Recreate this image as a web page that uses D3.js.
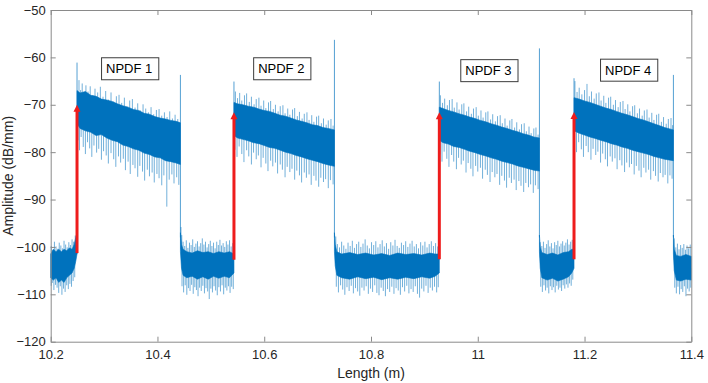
<!DOCTYPE html>
<html>
<head>
<meta charset="utf-8">
<script src="https://cdn.jsdelivr.net/npm/d3@7"></script>
<style>
  body { margin: 0; background: #fff; }
  svg text { font-family: Arial, "Liberation Sans", Helvetica, sans-serif; }
</style>
</head>
<body>
<div id="chart"></div>
<script>
// axis ticks
const xTicks = [10.2, 10.4, 10.6, 10.8, 11, 11.2, 11.4];
const yTicks = [-120, -110, -100, -90, -80, -70, -60, -50];

// trace: core band [x, top, bottom] per segment
const core0 = [[10.2,-101.5,-106.5],[10.205,-100.5,-107],[10.21,-101,-106.5],[10.215,-100.5,-107.5],[10.22,-101,-107],[10.225,-100.5,-107.5],[10.23,-100.8,-106.5],[10.235,-100.2,-106],[10.24,-100.5,-105.5],[10.244,-99.5,-104.5],[10.247,-98,-103],[10.2493,-97,-101.5]];
const core1 = [[10.2493,-67,-74],[10.255,-67.5,-75],[10.265,-67.2,-75.5],[10.275,-68,-75.8],[10.285,-68.2,-76.5],[10.295,-68.8,-76.3],[10.305,-69,-77],[10.315,-69.3,-77.5],[10.325,-69.8,-77.8],[10.335,-70.2,-78.5],[10.345,-70.5,-78.8],[10.355,-71,-79.3],[10.365,-71.2,-79.6],[10.375,-71.8,-80.2],[10.385,-72,-80.5],[10.395,-72.5,-81],[10.405,-72.8,-81.2],[10.415,-73,-81.8],[10.425,-73.3,-82],[10.435,-73.5,-82.3],[10.443,-73.8,-82.6]];
const core2 = [[10.443,-97,-101],[10.445,-99.5,-104.5],[10.448,-100.5,-106],[10.455,-101,-106.5],[10.465,-101.3,-106.2],[10.475,-100.8,-106.8],[10.485,-101.2,-106.3],[10.495,-101,-106.8],[10.505,-101.4,-106.2],[10.515,-101,-106.6],[10.525,-101.3,-106.2],[10.535,-101,-106.5],[10.5433,-101.5,-105.5]];
const core3 = [[10.5433,-69.5,-76.5],[10.55,-69.8,-77],[10.56,-70,-77.3],[10.57,-70.3,-77.6],[10.58,-70.5,-78],[10.59,-70.9,-78.2],[10.6,-71.2,-78.6],[10.61,-71.4,-79],[10.62,-71.8,-79.2],[10.63,-72.2,-79.6],[10.64,-72.4,-80],[10.65,-72.8,-80.3],[10.66,-73.2,-80.7],[10.67,-73.5,-81],[10.68,-73.8,-81.4],[10.69,-74.2,-81.7],[10.7,-74.4,-82],[10.71,-74.8,-82.4],[10.72,-75,-82.7],[10.7315,-75.3,-83]];
const core4 = [[10.7315,-97,-101],[10.733,-99.5,-104],[10.736,-101,-106],[10.745,-101.5,-106.5],[10.76,-101.2,-106.8],[10.775,-101.6,-106.3],[10.79,-101.3,-106.7],[10.805,-101.7,-106.4],[10.82,-101.4,-106.9],[10.835,-101.8,-106.5],[10.85,-101.3,-106.8],[10.865,-101.6,-106.4],[10.88,-101.4,-106.7],[10.895,-101.7,-106.3],[10.91,-101.3,-106.6],[10.92,-101.5,-106.2],[10.928,-101.5,-105.5]];
const core5 = [[10.928,-70.5,-77.5],[10.935,-70.8,-78],[10.945,-71.2,-78.3],[10.955,-71.5,-78.8],[10.965,-71.9,-79],[10.975,-72.2,-79.4],[10.985,-72.6,-79.8],[10.995,-72.9,-80.1],[11.005,-73.3,-80.5],[11.015,-73.6,-80.8],[11.025,-74,-81.2],[11.035,-74.3,-81.5],[11.045,-74.7,-81.9],[11.055,-75,-82.2],[11.065,-75.4,-82.5],[11.075,-75.7,-82.9],[11.085,-76.1,-83.2],[11.095,-76.4,-83.5],[11.105,-76.8,-83.8],[11.1155,-77,-84]];
const core6 = [[11.1155,-97.5,-101],[11.117,-100,-104.5],[11.12,-101.2,-106.5],[11.13,-101.6,-107],[11.14,-101.3,-106.6],[11.15,-101.7,-107.2],[11.16,-101.2,-106.8],[11.17,-101,-106.3],[11.176,-100.5,-105.5],[11.1803,-100.5,-104.5]];
const core7 = [[11.1803,-68.5,-75.5],[11.19,-68.8,-76],[11.2,-69.2,-76.4],[11.21,-69.5,-76.8],[11.22,-69.9,-77.1],[11.23,-70.3,-77.5],[11.24,-70.7,-77.8],[11.25,-71,-78.2],[11.26,-71.4,-78.5],[11.27,-71.8,-78.9],[11.28,-72.1,-79.2],[11.29,-72.5,-79.6],[11.3,-72.9,-79.9],[11.31,-73.2,-80.2],[11.32,-73.6,-80.5],[11.33,-74,-80.9],[11.34,-74.4,-81.2],[11.35,-74.8,-81.5],[11.3665,-75.3,-81.8]];
const core8 = [[11.3665,-97.5,-101.5],[11.368,-100.5,-105],[11.372,-101.8,-107],[11.38,-102,-107.2],[11.39,-101.6,-106.8],[11.4,-102,-107]];

// noise spikes outside the core band [x, value]
const spikes0 = [[10.201,-99.8],[10.204,-100.6],[10.207,-98.9],[10.21,-99.9],[10.213,-100.4],[10.216,-99.1],[10.219,-99.7],[10.222,-100.3],[10.225,-98.7],[10.228,-99.5],[10.231,-100.1],[10.234,-99],[10.237,-99.6],[10.24,-98.4],[10.243,-98.9],[10.246,-97.6],
  [10.201,-108.2],[10.203,-107.6],[10.206,-109.1],[10.209,-108],[10.212,-108.6],[10.215,-109.7],[10.218,-108.3],[10.221,-110.1],[10.224,-108.8],[10.227,-109.5],[10.23,-108.1],[10.233,-108.9],[10.236,-107.8],[10.239,-108.4],[10.242,-107.2],[10.245,-106.4]];
const spikes1 = [[10.253,-64.8],[10.256,-66.9],[10.259,-65.5],[10.262,-67.8],[10.266,-65.9],[10.27,-67.2],[10.274,-66.1],[10.279,-68],[10.283,-66.6],[10.288,-67.4],[10.293,-66.2],[10.298,-68.3],[10.303,-67.1],[10.308,-68.9],[10.313,-67.4],[10.318,-69.3],[10.323,-68.2],[10.328,-67.9],[10.333,-69.6],[10.338,-68.5],[10.343,-70.4],[10.348,-69.1],[10.353,-68.8],[10.358,-70.6],[10.363,-69.7],[10.368,-71.2],[10.373,-69.9],[10.378,-70.8],[10.383,-71.6],[10.388,-70.5],[10.393,-72],[10.398,-71.1],[10.403,-70.9],[10.408,-72.3],[10.413,-71.6],[10.418,-72.6],[10.423,-71.4],[10.428,-72.9],[10.433,-72.1],[10.438,-73],
  [10.251,-77.5],[10.254,-79.6],[10.257,-76.8],[10.261,-78.9],[10.265,-80.4],[10.269,-77.9],[10.273,-79.2],[10.277,-81],[10.281,-78.6],[10.286,-80.1],[10.29,-79.3],[10.295,-81.6],[10.299,-79.8],[10.304,-80.7],[10.308,-82.4],[10.313,-80.2],[10.318,-81.5],[10.322,-83.1],[10.327,-80.9],[10.331,-82.2],[10.336,-81.4],[10.34,-83.8],[10.345,-82],[10.349,-84.6],[10.354,-82.7],[10.358,-83.4],[10.363,-85.2],[10.367,-82.9],[10.372,-84.1],[10.376,-86],[10.381,-83.7],[10.385,-85.1],[10.39,-84.3],[10.394,-86.4],[10.399,-84.6],[10.403,-85.5],[10.408,-87],[10.412,-84.9],[10.4175,-91.5],[10.422,-85.8],[10.427,-84.7],[10.431,-86.6],[10.436,-85.3],[10.44,-86.9]];
const spikes2 = [[10.444,-95.8],[10.4455,-97.5],[10.448,-98.9],[10.451,-99.8],[10.454,-98.6],[10.457,-100.2],[10.46,-99.1],[10.463,-99.6],[10.466,-98.4],[10.469,-100],[10.472,-99.3],[10.475,-98.8],[10.478,-99.9],[10.481,-99.2],[10.484,-98.2],[10.487,-99.5],[10.49,-98.9],[10.493,-100.1],[10.496,-99.4],[10.499,-98.7],[10.502,-99.8],[10.505,-99.1],[10.508,-100.3],[10.511,-98.9],[10.514,-99.6],[10.517,-98.5],[10.52,-99.7],[10.523,-99.2],[10.526,-100],[10.529,-98.8],[10.532,-99.5],[10.535,-98.6],[10.538,-99.9],[10.541,-99.2],
  [10.446,-108.3],[10.449,-109.6],[10.452,-108.1],[10.455,-110.1],[10.458,-108.7],[10.461,-109.3],[10.464,-108],[10.467,-109.9],[10.47,-108.5],[10.473,-109.1],[10.476,-110.4],[10.479,-108.6],[10.482,-109.3],[10.485,-108.2],[10.488,-109.8],[10.491,-108.7],[10.494,-109.4],[10.497,-111],[10.5,-108.8],[10.503,-109.6],[10.506,-108.3],[10.509,-109.2],[10.512,-110.2],[10.515,-108.5],[10.518,-109.4],[10.521,-108.1],[10.524,-110],[10.527,-108.6],[10.53,-109.2],[10.533,-108.3],[10.536,-109.7],[10.539,-108.4],[10.542,-108.9]];
const spikes3 = [[10.546,-67.2],[10.55,-68.6],[10.554,-67.5],[10.558,-69.1],[10.563,-68],[10.567,-67.6],[10.572,-69.4],[10.576,-68.3],[10.581,-69.9],[10.585,-68.8],[10.59,-68.5],[10.594,-70.2],[10.599,-69.1],[10.603,-70.7],[10.608,-69.5],[10.612,-69.2],[10.617,-70.9],[10.621,-70],[10.626,-71.4],[10.63,-70.3],[10.635,-70.1],[10.639,-71.8],[10.644,-70.8],[10.648,-72.1],[10.653,-71],[10.657,-70.7],[10.662,-72.4],[10.666,-71.5],[10.671,-72.9],[10.675,-71.9],[10.68,-71.6],[10.684,-73.2],[10.689,-72.2],[10.693,-73.6],[10.698,-72.5],[10.702,-72.3],[10.707,-73.9],[10.711,-72.9],[10.716,-74.2],[10.72,-73.3],[10.725,-73],[10.729,-74.4],
  [10.545,-79.5],[10.549,-81],[10.553,-78.8],[10.558,-80.4],[10.562,-82.1],[10.567,-79.6],[10.571,-80.9],[10.576,-82.6],[10.58,-80.1],[10.585,-81.5],[10.589,-80.7],[10.594,-83.2],[10.598,-81.2],[10.603,-82.4],[10.607,-84],[10.612,-81.8],[10.616,-83],[10.621,-82.2],[10.625,-84.5],[10.63,-82.6],[10.634,-83.7],[10.639,-85.3],[10.643,-83.1],[10.648,-84.2],[10.652,-83.5],[10.657,-85.8],[10.661,-83.9],[10.666,-84.9],[10.67,-86.4],[10.675,-84.3],[10.679,-85.4],[10.684,-84.7],[10.688,-86.9],[10.693,-85],[10.697,-86],[10.702,-87.3],[10.706,-85.4],[10.711,-86.3],[10.715,-85.7],[10.72,-87.6],[10.724,-85.9],[10.729,-86.8]];
const spikes4 = [[10.734,-97.8],[10.737,-99.4],[10.741,-100.1],[10.745,-98.9],[10.749,-99.7],[10.753,-100.4],[10.757,-99.1],[10.761,-99.8],[10.765,-98.7],[10.769,-100.2],[10.773,-99.4],[10.777,-98.9],[10.781,-100],[10.785,-99.3],[10.789,-98.4],[10.793,-99.7],[10.797,-100.3],[10.801,-99],[10.805,-99.6],[10.809,-98.8],[10.813,-100.1],[10.817,-99.4],[10.821,-98.6],[10.825,-99.9],[10.829,-99.2],[10.833,-100.4],[10.837,-99],[10.841,-99.7],[10.845,-98.5],[10.849,-99.8],[10.853,-100.2],[10.857,-99.1],[10.861,-99.6],[10.865,-98.8],[10.869,-100],[10.873,-99.3],[10.877,-98.7],[10.881,-99.9],[10.885,-99.4],[10.889,-100.3],[10.893,-99],[10.897,-99.7],[10.901,-98.9],[10.905,-100.1],[10.909,-99.4],[10.913,-98.8],[10.917,-99.8],[10.921,-99.2],[10.925,-99.9],
  [10.735,-108.4],[10.739,-109.6],[10.743,-108.1],[10.747,-109],[10.751,-110.1],[10.755,-108.5],[10.759,-109.3],[10.763,-108.2],[10.767,-109.8],[10.771,-108.7],[10.775,-109.4],[10.779,-110.3],[10.783,-108.6],[10.787,-109.2],[10.791,-108.3],[10.795,-109.9],[10.799,-108.8],[10.803,-109.5],[10.807,-108.1],[10.811,-109.7],[10.815,-110.2],[10.819,-108.6],[10.823,-109.3],[10.827,-110.4],[10.831,-108.9],[10.835,-109.5],[10.839,-108.4],[10.843,-109.9],[10.847,-108.7],[10.851,-109.2],[10.855,-110.1],[10.859,-108.5],[10.863,-109.4],[10.867,-108.2],[10.871,-109.8],[10.875,-108.9],[10.879,-109.5],[10.883,-108.3],[10.887,-109.9],[10.891,-110.7],[10.895,-108.8],[10.899,-109.4],[10.903,-108.2],[10.907,-109.7],[10.911,-108.6],[10.915,-109.2],[10.919,-108.4],[10.923,-109.6],[10.926,-108.5]];
const spikes5 = [[10.93,-68],[10.934,-69.6],[10.938,-68.7],[10.943,-70.1],[10.947,-69],[10.952,-68.8],[10.956,-70.6],[10.961,-69.5],[10.965,-71],[10.97,-69.9],[10.974,-69.7],[10.979,-71.4],[10.983,-70.4],[10.988,-71.9],[10.992,-70.8],[10.997,-70.5],[11.001,-72.3],[11.006,-71.2],[11.01,-72.7],[11.015,-71.6],[11.019,-71.4],[11.024,-73.1],[11.028,-72],[11.033,-73.5],[11.037,-72.4],[11.042,-72.2],[11.046,-73.9],[11.051,-72.9],[11.055,-74.4],[11.06,-73.3],[11.064,-73],[11.069,-74.8],[11.073,-73.7],[11.078,-75.2],[11.082,-74.1],[11.087,-73.9],[11.091,-75.6],[11.096,-74.6],[11.1,-76],[11.105,-75],[11.109,-74.8],[11.113,-76.3],
  [10.929,-80.5],[10.933,-82],[10.937,-79.9],[10.942,-81.4],[10.946,-83.1],[10.951,-80.6],[10.955,-82],[10.96,-83.6],[10.964,-81.2],[10.969,-82.6],[10.973,-81.8],[10.978,-84.3],[10.982,-82.3],[10.987,-83.5],[10.991,-85.1],[10.996,-82.9],[11,-84.1],[11.005,-83.3],[11.009,-85.6],[11.014,-83.7],[11.018,-84.8],[11.023,-86.3],[11.027,-84.2],[11.032,-85.3],[11.036,-84.6],[11.041,-86.9],[11.045,-85],[11.05,-86],[11.054,-87.5],[11.059,-85.4],[11.063,-86.5],[11.068,-85.8],[11.072,-88],[11.077,-86.1],[11.081,-87.1],[11.086,-88.4],[11.09,-86.5],[11.095,-87.4],[11.099,-86.8],[11.104,-88.6],[11.108,-87],[11.113,-87.8]];
const spikes6 = [[11.117,-99],[11.12,-99.8],[11.123,-98.9],[11.126,-100.2],[11.129,-99.4],[11.132,-98.6],[11.135,-99.9],[11.138,-99.2],[11.141,-100.3],[11.144,-99],[11.147,-99.6],[11.15,-98.7],[11.153,-99.9],[11.156,-99.3],[11.159,-98.8],[11.162,-99.7],[11.165,-99.1],[11.168,-98.4],[11.171,-99.5],[11.174,-98.9],[11.177,-98.5],
  [11.118,-108.4],[11.121,-109.5],[11.124,-108.1],[11.127,-109.2],[11.13,-108.6],[11.133,-109.8],[11.136,-108.3],[11.139,-109.1],[11.142,-108.5],[11.145,-109.6],[11.148,-108.2],[11.151,-109],[11.154,-108.6],[11.157,-109.3],[11.16,-108.1],[11.163,-108.8],[11.166,-107.9],[11.169,-108.6],[11.172,-107.7],[11.175,-108.2],[11.178,-106.9]];
const spikes7 = [[11.182,-65],[11.186,-67.3],[11.19,-66.4],[11.195,-67.8],[11.2,-66.9],[11.2046,-65.6],[11.209,-68.2],[11.213,-67.2],[11.218,-68.7],[11.222,-67.6],[11.227,-67.4],[11.231,-69.1],[11.236,-68.1],[11.24,-69.6],[11.245,-68.5],[11.249,-68.3],[11.254,-70],[11.258,-69],[11.263,-70.5],[11.267,-69.4],[11.272,-69.2],[11.276,-70.9],[11.281,-69.9],[11.285,-71.4],[11.29,-70.3],[11.294,-70.1],[11.299,-71.8],[11.303,-70.8],[11.308,-72.3],[11.312,-71.2],[11.317,-71],[11.321,-72.7],[11.326,-71.7],[11.33,-73.2],[11.335,-72.1],[11.339,-71.9],[11.344,-73.6],[11.348,-72.6],[11.353,-74],[11.357,-73],[11.362,-72.8],[11.365,-74.3],
  [11.181,-78.5],[11.185,-80],[11.189,-77.9],[11.194,-79.4],[11.198,-81],[11.203,-78.7],[11.207,-80],[11.212,-81.6],[11.216,-79.3],[11.221,-80.6],[11.225,-79.9],[11.23,-82.2],[11.234,-80.3],[11.239,-81.5],[11.243,-83],[11.248,-80.9],[11.252,-82],[11.257,-81.3],[11.261,-83.6],[11.266,-81.7],[11.27,-82.8],[11.275,-84.2],[11.279,-82.2],[11.284,-83.2],[11.288,-82.5],[11.293,-84.7],[11.297,-82.9],[11.302,-83.9],[11.306,-85.3],[11.311,-83.3],[11.315,-84.3],[11.32,-83.7],[11.324,-85.8],[11.329,-84],[11.333,-85],[11.338,-86.2],[11.342,-84.4],[11.347,-85.3],[11.351,-84.8],[11.356,-86.6],[11.36,-84.9],[11.364,-85.6]];
const spikes8 = [[11.368,-98.2],[11.371,-100.1],[11.374,-99.3],[11.377,-100.5],[11.38,-99.6],[11.383,-100.2],[11.386,-99.4],[11.389,-100.6],[11.392,-99.7],[11.395,-100.3],[11.398,-99.5],
  [11.369,-108.6],[11.372,-109.8],[11.375,-108.4],[11.378,-110],[11.381,-108.9],[11.384,-109.5],[11.387,-108.3],[11.39,-110.4],[11.393,-108.8],[11.396,-109.4],[11.399,-108.6]];

// vertical steps between segments [x, low, high]
const jumps = [[10.2493,-101.5,-61.1],[10.443,-98,-63.7],[10.5433,-102.7,-65.1],[10.7315,-98,-56.3],[10.928,-102.7,-65.1],[11.1155,-98,-58.1],[11.1803,-102.6,-64.4],[11.3665,-98,-63.7]];

// red arrows
const arrowX = [10.2493, 10.5433, 10.928, 11.1803];
const arrowFrom = [-101.3, -102.7, -102.6, -102.6];
const arrowTo = [-70.0, -71.6, -71.6, -71.5];

// text boxes
const labels = ["NPDF 1", "NPDF 2", "NPDF 3", "NPDF 4"];
const labelX = [10.3037, 10.5886, 10.9766, 11.2384];
const labelY = [-62.4, -62.4, -62.8, -62.7];

const cores = [core0, core1, core2, core3, core4, core5, core6, core7, core8];
const spikes = [spikes0, spikes1, spikes2, spikes3, spikes4, spikes5, spikes6, spikes7, spikes8];

const width = 708, height = 383;
const margin = {top: 10, right: 16.7, bottom: 41.3, left: 50.7};
const blue = "#0072BD";

const x = d3.scaleLinear().domain([10.2, 11.4]).range([margin.left, width - margin.right]);
const y = d3.scaleLinear().domain([-120, -50]).range([height - margin.bottom, margin.top]);

const svg = d3.select("#chart").append("svg")
    .attr("width", width)
    .attr("height", height);

const plot = svg.append("g");

// spikes first, core band on top
cores.forEach((c, i) => {
    const mid = d3.scaleLinear()
        .domain(c.map(d => d[0]))
        .range(c.map(d => (d[1] + d[2]) / 2));

    plot.append("g")
        .selectAll("line")
        .data(spikes[i])
        .join("line")
        .attr("x1", d => x(d[0]))
        .attr("x2", d => x(d[0]))
        .attr("y1", d => y(mid(d[0])))
        .attr("y2", d => y(d[1]))
        .attr("stroke", blue)
        .attr("stroke-width", 0.8)
        .attr("stroke-opacity", 0.7);
});

const area = d3.area()
    .x(d => x(d[0]))
    .y0(d => y(d[2]))
    .y1(d => y(d[1]));

cores.forEach(c => {
    plot.append("path")
        .datum(c)
        .attr("d", area)
        .attr("fill", blue)
        .attr("stroke", blue)
        .attr("stroke-width", 0.6);
});

plot.append("g")
    .selectAll("line")
    .data(jumps)
    .join("line")
    .attr("x1", d => x(d[0]))
    .attr("x2", d => x(d[0]))
    .attr("y1", d => y(d[1]))
    .attr("y2", d => y(d[2]))
    .attr("stroke", blue)
    .attr("stroke-width", 0.9)
    .attr("stroke-opacity", 0.75);

// axes (MATLAB style box, ticks inside)
const axisColor = "#8a8a8a";
const fmt = d => String(+d.toFixed(1));

function styleAxis(g) {
    g.selectAll(".domain").attr("stroke", axisColor);
    g.selectAll(".tick line").attr("stroke", axisColor);
    g.selectAll("text").attr("fill", "#262626").style("font-size", "13px");
}

svg.append("g")
    .attr("transform", `translate(0,${height - margin.bottom})`)
    .call(d3.axisBottom(x).tickValues(xTicks).tickFormat(fmt).tickSizeInner(-5).tickSizeOuter(0).tickPadding(8))
    .call(styleAxis);

svg.append("g")
    .attr("transform", `translate(0,${margin.top})`)
    .call(d3.axisTop(x).tickValues(xTicks).tickFormat("").tickSizeInner(-5).tickSizeOuter(0))
    .call(styleAxis);

svg.append("g")
    .attr("transform", `translate(${margin.left},0)`)
    .call(d3.axisLeft(y).tickValues(yTicks).tickSizeInner(-5).tickSizeOuter(0).tickPadding(5))
    .call(styleAxis);

svg.append("g")
    .attr("transform", `translate(${width - margin.right},0)`)
    .call(d3.axisRight(y).tickValues(yTicks).tickFormat("").tickSizeInner(-5).tickSizeOuter(0))
    .call(styleAxis);

svg.selectAll(".domain").attr("stroke-width", 1);

// axis titles
svg.append("text")
    .attr("x", (margin.left + width - margin.right) / 2)
    .attr("y", 378)
    .attr("text-anchor", "middle")
    .attr("fill", "#262626")
    .style("font-size", "14px")
    .text("Length (m)");

svg.append("text")
    .attr("transform", `translate(13,${(margin.top + height - margin.bottom) / 2}) rotate(-90)`)
    .attr("text-anchor", "middle")
    .attr("fill", "#262626")
    .style("font-size", "14px")
    .text("Amplitude (dB/mm)");

// red arrows
const red = "#ee1c1c";
arrowX.forEach((ax, i) => {
    const px = x(ax);
    const yTip = y(arrowTo[i]);
    plot.append("line")
        .attr("x1", px).attr("x2", px)
        .attr("y1", y(arrowFrom[i]))
        .attr("y2", yTip + 5)
        .attr("stroke", red)
        .attr("stroke-width", 3);
    plot.append("path")
        .attr("d", `M${px - 3.5},${yTip + 7} L${px},${yTip} L${px + 3.5},${yTip + 7} Z`)
        .attr("fill", red);
});

// labelled boxes
labels.forEach((t, i) => {
    const g = svg.append("g");
    const txt = g.append("text")
        .attr("x", x(labelX[i]))
        .attr("y", y(labelY[i]))
        .attr("dy", "0.36em")
        .attr("fill", "#000")
        .style("font-size", "13px")
        .text(t);
    const bb = txt.node().getBBox();
    g.insert("rect", "text")
        .attr("x", bb.x - 4.5)
        .attr("y", y(labelY[i]) - 11)
        .attr("width", bb.width + 11)
        .attr("height", 22)
        .attr("fill", "#fff")
        .attr("stroke", "#3c3c3c")
        .attr("stroke-width", 1);
});
</script>
</body>
</html>
